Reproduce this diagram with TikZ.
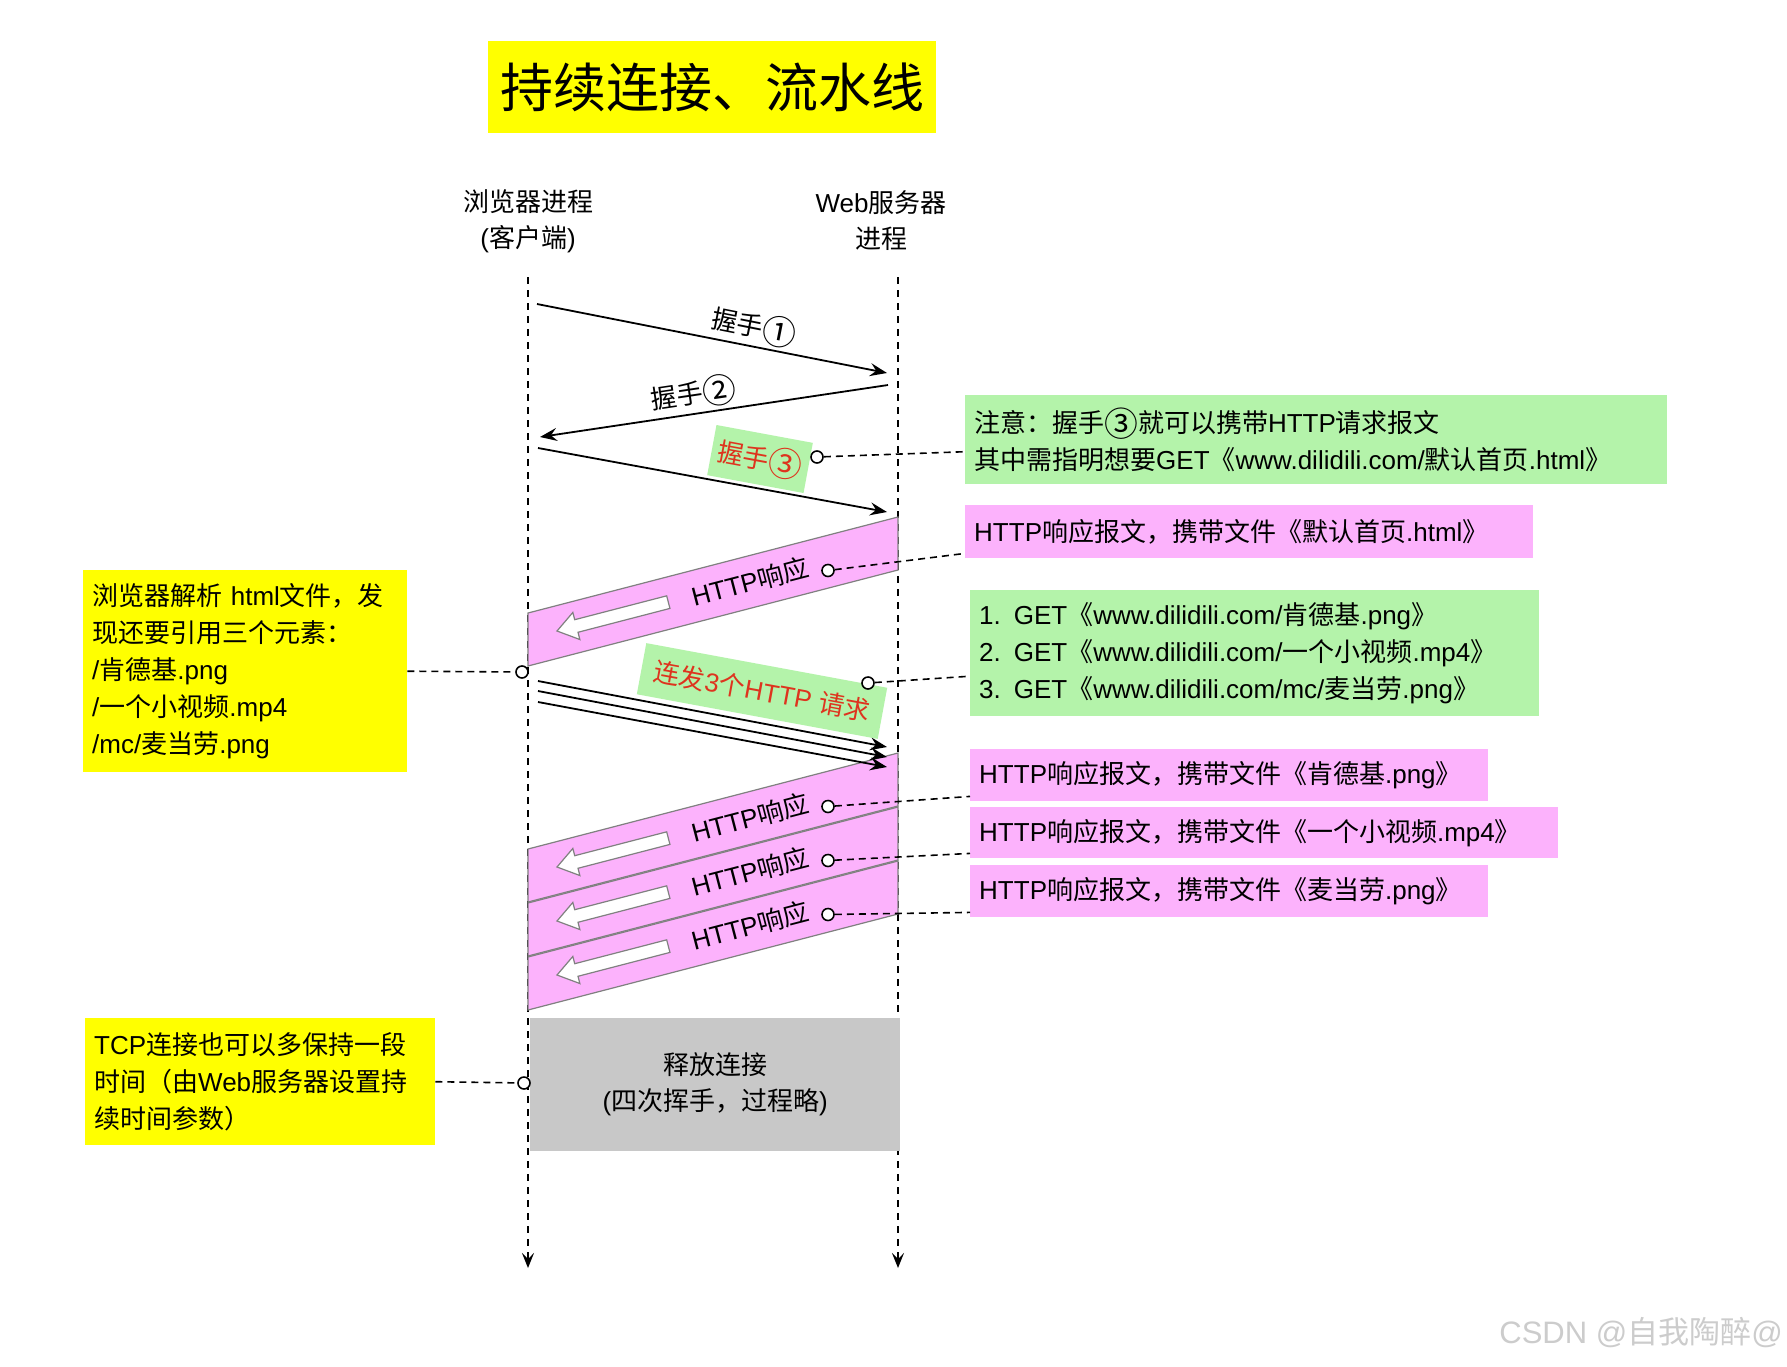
\documentclass[tikz,border=0pt]{standalone}
\usepackage{fontspec}
\setmainfont{Liberation Sans}
\newfontfamily\cjkfont{Noto Sans CJK SC}
\newfontfamily\circfont{Noto Sans CJK SC}[Scale=1.3]
\XeTeXinterchartokenstate=1
\newXeTeXintercharclass\cjkclass
\newXeTeXintercharclass\circclass
\newcount\cjkcode
\newcommand{\cjkrange}[3]{\cjkcode=#1\relax
  \loop\XeTeXcharclass\cjkcode=#3\relax
  \ifnum\cjkcode<#2\relax\advance\cjkcode by 1\repeat}
\cjkrange{"2460}{"24FF}{\circclass}
\cjkrange{"3000}{"303F}{\cjkclass}
\cjkrange{"4E00}{"9FFF}{\cjkclass}
\cjkrange{"FF00}{"FFEF}{\cjkclass}
\XeTeXinterchartoks 0 \cjkclass={\cjkfont}
\XeTeXinterchartoks 4095 \cjkclass={\cjkfont}
\XeTeXinterchartoks \circclass \cjkclass={\egroup\cjkfont}
\XeTeXinterchartoks \cjkclass 0={\rmfamily}
\XeTeXinterchartoks \cjkclass 4095={\rmfamily}
\XeTeXinterchartoks 0 \circclass={\lower3.5pt\hbox\bgroup\circfont}
\XeTeXinterchartoks 4095 \circclass={\lower3.5pt\hbox\bgroup\circfont}
\XeTeXinterchartoks \cjkclass \circclass={\lower3.5pt\hbox\bgroup\circfont}
\XeTeXinterchartoks \circclass 0={\egroup\rmfamily}
\XeTeXinterchartoks \circclass 4095={\egroup\rmfamily}
\usepackage{xcolor}
\usetikzlibrary{arrows.meta, positioning, calc}
\definecolor{notegreen}{RGB}{180,243,170}
\definecolor{notepink}{RGB}{252,178,252}
\definecolor{noteyellow}{RGB}{255,255,0}
\definecolor{relgray}{RGB}{200,200,200}
\definecolor{hsred}{RGB}{222,52,30}

\begin{document}
\begin{tikzpicture}[x=1pt, y=-1pt,
    every node/.style={font=\fontsize{26}{37}\selectfont, inner sep=0pt},
    note/.style={anchor=north west, align=left, inner xsep=9pt},
    life/.style={line width=1.8pt, dash pattern=on 7pt off 6pt, -{Stealth[length=15pt, width=12pt, inset=6pt]}},
    msg/.style={line width=1.8pt, -{Stealth[length=17pt, width=13pt, inset=6pt]}},
    pinline/.style={line width=1.6pt, dash pattern=on 7pt off 5pt},
    pindot/.style={circle, draw, line width=1.6pt, fill=white, minimum size=12pt},
    band/.style={fill=notepink, draw=gray, line width=1.2pt},
    wharrow/.style={fill=white, draw=gray, line width=1.2pt},
    tag/.style={fill=notegreen, text=hsred, rotate=-10.5}]

    \fill[white] (0,0) rectangle (1787,1366);
    \useasboundingbox (0,0) rectangle (1787,1366);

    \node[fill=noteyellow, minimum width=448pt, minimum height=92pt,
        font=\fontsize{53}{60}\selectfont] (title) at (712,87) {持续连接、流水线};

    \node[align=center, font=\fontsize{26}{36}\selectfont] (client) at (528,221) {浏览器进程\\(客户端)};
    \node[align=center, font=\fontsize{26}{36}\selectfont] (server) at (881,221) {Web服务器\\进程};

    \coordinate (ctop) at (528,277); \coordinate (cbot) at (528,1268);
    \coordinate (stop) at (898,277); \coordinate (sbot) at (898,1268);
    \draw[life] (ctop) -- (cbot);
    \draw[life] (stop) -- (sbot);

    \node[fill=relgray, minimum width=370pt, minimum height=133pt, anchor=north west,
        align=center, font=\fontsize{26}{36}\selectfont] (release) at (530,1018)
        {释放连接\\(四次挥手，过程略)};

    \coordinate (h1a) at (537,304); \coordinate (h1b) at (887,373);
    \coordinate (h2a) at (888,385); \coordinate (h2b) at (540,437);
    \coordinate (h3a) at (538,448); \coordinate (h3b) at (887,512);
    \draw[msg] (h1a) -- node[sloped, above=3pt, pos=0.61] (hs1) {握手①} (h1b);
    \draw[msg] (h2a) -- node[sloped, above=3pt, pos=0.55] (hs2) {握手②} (h2b);
    \draw[msg] (h3a) -- (h3b);
    \node[tag, minimum width=98pt, minimum height=51pt] (hs3) at (760,459) {握手③};
    \node[pindot] (d3) at (817,457) {};

    \foreach \n/\yr in {0/517, 1/753, 2/807, 3/861} {
        \draw[band] (528,\yr+96) -- (898,\yr) -- (898,\yr+53) -- (528,\yr+149) -- cycle;
        \begin{scope}[shift={(557,\yr+114)}, rotate=14.55]
            \draw[wharrow] (0,0) -- (20,-14) -- (20,-6.5) -- (115,-6.5) -- (115,6.5)
                -- (20,6.5) -- (20,14) -- cycle;
        \end{scope}
        \node[rotate=14.55] (t\n) at (750,\yr+64.5) {HTTP响应};
        \node[pindot] (o\n) at (828,\yr+53.5) {};
    }

    \foreach \k/\ya/\yb in {1/681/747, 2/691/757, 3/702/767} {
        \coordinate (qa\k) at (538,\ya); \coordinate (qb\k) at (887,\yb);
        \draw[msg] (qa\k) -- (qb\k);
    }
    \node[tag, minimum width=245pt, minimum height=52pt] (burst) at (762,691) {连发3个HTTP 请求};
    \node[pindot] (d4) at (868,683) {};

    \node[note, fill=notegreen, text width=684pt, minimum height=89pt] (g1) at (965,395)
        {注意：握手③就可以携带HTTP请求报文\\其中需指明想要GET《www.dilidili.com/默认首页.html》};
    \node[note, fill=notepink, text width=550pt, minimum height=53pt] (pr0) at (965,505)
        {HTTP响应报文，携带文件《默认首页.html》};
    \node[note, fill=notegreen, text width=551pt, minimum height=126pt] (g2) at (970,590)
        {1. GET《www.dilidili.com/肯德基.png》\\2. GET《www.dilidili.com/一个小视频.mp4》\\3. GET《www.dilidili.com/mc/麦当劳.png》};
    \node[note, fill=notepink, text width=500pt, minimum height=52pt] (pr1) at (970,749)
        {HTTP响应报文，携带文件《肯德基.png》};
    \node[note, fill=notepink, text width=570pt, minimum height=51pt] (pr2) at (970,807)
        {HTTP响应报文，携带文件《一个小视频.mp4》};
    \node[note, fill=notepink, text width=500pt, minimum height=52pt] (pr3) at (970,865)
        {HTTP响应报文，携带文件《麦当劳.png》};
    \node[note, fill=noteyellow, text width=306pt, minimum height=202pt] (y1) at (83,570)
        {浏览器解析~html文件，发\\现还要引用三个元素：\\/肯德基.png\\/一个小视频.mp4\\/mc/麦当劳.png};
    \node[note, fill=noteyellow, text width=332pt, minimum height=127pt] (y2) at (85,1018)
        {TCP连接也可以多保持一段\\时间（由Web服务器设置持\\续时间参数）};
    \node[pindot] (dy1) at (522,672) {};
    \node[pindot] (dy2) at (524,1083) {};

    \draw[pinline] (d3) -- ($(g1.west)+(0,12)$);
    \draw[pinline] (d4) -- ($(g2.west)+(0,23)$);
    \foreach \n in {0,...,3}
        \draw[pinline] (o\n) -- ($(pr\n.south west)+(0,-5)$);
    \draw[pinline] (y1.east) -- (dy1);
    \draw[pinline] (y2.east) -- (dy2);

    \node[text=gray!40, font=\fontsize{31}{31}\selectfont, anchor=east] (mark) at (1783,1333) {CSDN @自我陶醉@};
\end{tikzpicture}
\end{document}
